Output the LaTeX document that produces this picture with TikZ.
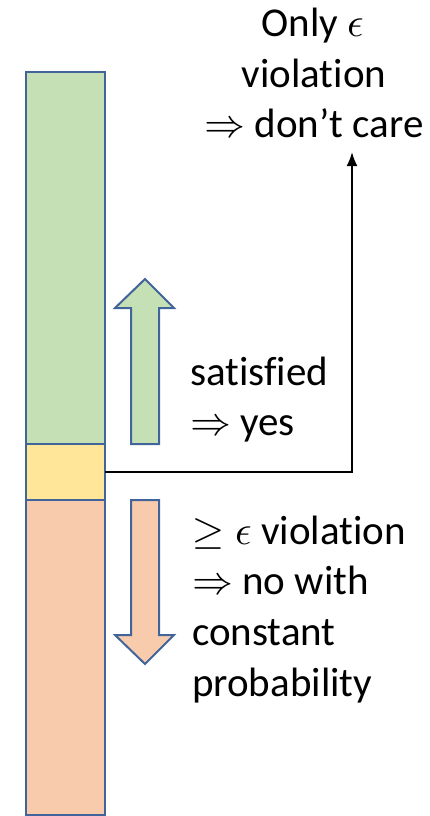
\documentclass[tikz,border=0pt]{standalone}
\usepackage{unicode-math}
\setmainfont{Carlito}[Ligatures=NoCommon]
\setmathfont{Latin Modern Math}
\usetikzlibrary{arrows.meta}
\begin{document}
\begin{tikzpicture}[x=1pt,y=-1pt,
  seg/.style={draw=barblue,line width=2pt},
  lbl/.style={inner sep=0pt,font=\fontsize{41}{50}\selectfont},
  conn/.style={draw=black,line width=2pt}]
\definecolor{barblue}{HTML}{41649A}
\definecolor{gfill}{HTML}{C5E0B4}
\definecolor{yfill}{HTML}{FFE699}
\definecolor{ofill}{HTML}{F8CBAD}
\useasboundingbox (0,0) rectangle (430,816);
% bar
\draw[seg,fill=gfill] (26,72) rectangle (105,444);
\draw[seg,fill=yfill] (26,444) rectangle (105,500);
\draw[seg,fill=ofill] (26,500) rectangle (105,815);
\coordinate (ymid) at (105,472);
\coordinate (bend) at (352,472);
% up arrow
\draw[seg,fill=gfill,line join=miter] (131,444) -- (131,308) -- (115,308) -- (145,279) -- (174,308) -- (159,308) -- (159,444) -- cycle;
% down arrow
\draw[seg,fill=ofill,line join=miter] (131,500) -- (131,635) -- (115,635) -- (145,664) -- (174,635) -- (159,635) -- (159,500) -- cycle;
% texts
\node[lbl,anchor=base] (t1) at (313,37) {Only $\epsilon$};
\node[lbl,anchor=base] (t2) at (314,87) {violation};
\node[lbl,anchor=base] (t3) at (314,137) {$\Rightarrow$ don’t care};
\coordinate (tip) at (352,152);
\draw[conn,-{Latex[length=14pt,width=11pt]}] (ymid) -- (bend) -- (tip);
\node[lbl,anchor=base west] (s1) at (190,385) {satisfied};
\node[lbl,anchor=base west] (s2) at (190,435) {$\Rightarrow$ yes};
\node[lbl,anchor=base west] (v1) at (192,544) {$\geq\epsilon$ violation};
\node[lbl,anchor=base west] (v2) at (192,594) {$\Rightarrow$ no with};
\node[lbl,anchor=base west] (v3) at (192,645) {constant};
\node[lbl,anchor=base west] (v4) at (192,696) {probability};
\end{tikzpicture}
\end{document}
